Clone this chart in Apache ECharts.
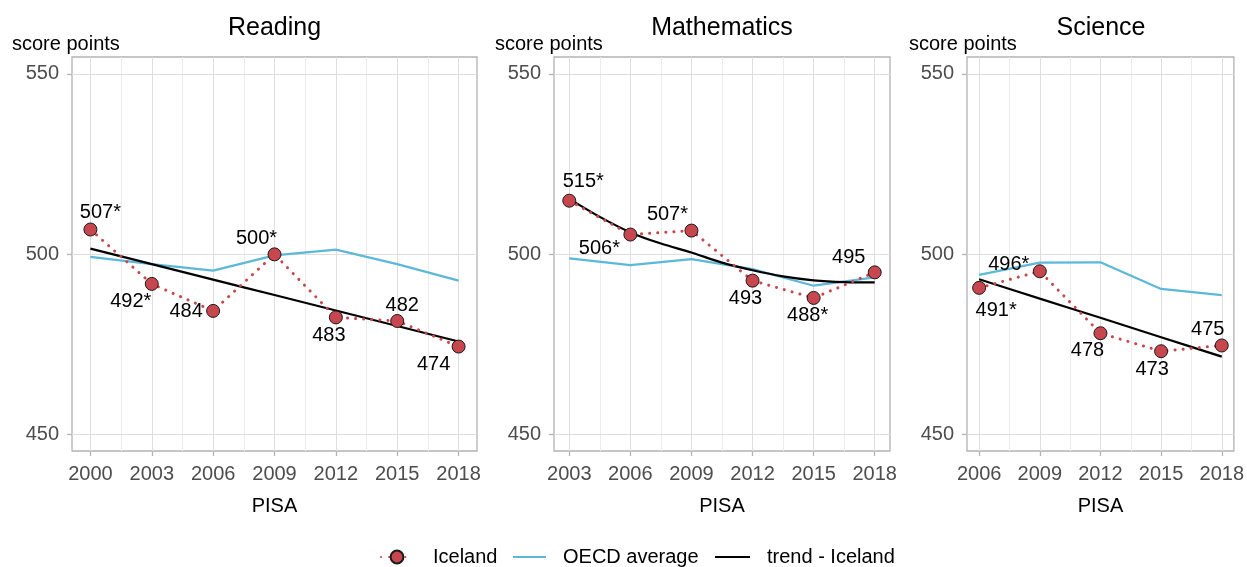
<!DOCTYPE html>
<html>
<head>
	<meta charset="utf-8">
	<title>Iceland PISA trends</title>
	<script src="https://cdn.jsdelivr.net/npm/echarts@6/dist/echarts.min.js"></script>
	<style>
		html, body {
			margin: 0;
			padding: 0;
			background: #fff;
		}

		#chart {
			width: 1247px;
			height: 567px;
		}
	</style>
</head>
<body>
	<div id="chart"></div>
	<script>
		// data
		var readingYears = [2000, 2003, 2006, 2009, 2012, 2015, 2018];
		var readingIceland = [506.8, 491.7, 484.2, 499.9, 482.4, 481.4, 474.3];
		var readingLabels = ['507*', '492*', '484', '500*', '483', '482', '474'];
		var readingOecd = [499.2, 497.2, 495.4, 499.6, 501.2, 497.2, 492.6];
		var readingTrend = [501.5, 497.2, 492.9, 488.6, 484.3, 480.0, 475.7];

		var mathYears = [2003, 2006, 2009, 2012, 2015, 2018];
		var mathIceland = [514.8, 505.4, 506.5, 492.6, 487.8, 494.9];
		var mathLabels = ['515*', '506*', '507*', '493', '488*', '495'];
		var mathOecd = [498.8, 496.9, 498.6, 495.8, 491.2, 493.5];
		var mathTrendYears = [2003, 2004.5, 2006, 2007.5, 2009, 2010.5, 2012, 2013.5, 2015, 2016.5, 2018];
		var mathTrend = [515.3, 510.3, 506.0, 502.9, 500.4, 497.6, 495.5, 493.8, 492.7, 492.2, 492.1];

		var scienceYears = [2006, 2009, 2012, 2015, 2018];
		var scienceIceland = [490.6, 495.2, 478.0, 473.0, 474.6];
		var scienceLabels = ['491*', '496*', '478', '473', '475'];
		var scienceOecd = [494.2, 497.6, 497.7, 490.3, 488.6];
		var scienceTrend = [493.0, 487.6, 482.3, 476.9, 471.5];

		var yTicks = [450, 500, 550];

		// label placement (pixels from the dot)
		var readingOffsets = [[10, -17], [-21, 18], [-27, 1], [-18, -16], [-7, 18], [5, -16], [-25, 18]];
		var mathOffsets = [[14, -19], [-31, 14], [-24, -16], [-7, 18], [-6, 18], [-26, -15]];
		var scienceOffsets = [[17, 23], [-31, -7], [-13, 17], [-9, 18], [-14, -16]];

		var RED = '#c8474f';
		var BLUE = '#5cb8d8';
		var FONT = '"Liberation Sans", Arial, sans-serif';

		var panels = [
			{title: 'Reading', years: readingYears, iceland: readingIceland, labels: readingLabels, oecd: readingOecd,
				trendYears: readingYears, trend: readingTrend, offsets: readingOffsets,
				left: 72, width: 405, xMin: 1999.1, xMax: 2018.9, yTitleX: 12},
			{title: 'Mathematics', years: mathYears, iceland: mathIceland, labels: mathLabels, oecd: mathOecd,
				trendYears: mathTrendYears, trend: mathTrend, offsets: mathOffsets,
				left: 554, width: 336, xMin: 2002.25, xMax: 2018.75, yTitleX: 495},
			{title: 'Science', years: scienceYears, iceland: scienceIceland, labels: scienceLabels, oecd: scienceOecd,
				trendYears: scienceYears, trend: scienceTrend, offsets: scienceOffsets,
				left: 967, width: 268, xMin: 2005.4, xMax: 2018.6, yTitleX: 909}
		];

		var grids = [], xAxes = [], yAxes = [], series = [], titles = [];

		panels.forEach(function (p, i) {
			grids.push({
				left: p.left, top: 57, width: p.width, height: 394,
				show: true, borderColor: '#b3b3b3', borderWidth: 1.3, backgroundColor: '#fff'
			});
			xAxes.push({
				gridIndex: i, type: 'value', min: p.xMin, max: p.xMax,
				name: 'PISA', nameLocation: 'middle', nameGap: 45,
				nameTextStyle: {fontSize: 20, color: '#000', fontFamily: FONT},
				axisLine: {show: false},
				splitLine: {show: false},
				axisTick: {show: true, customValues: p.years, length: 5, lineStyle: {color: '#b3b3b3', width: 1.3}},
				axisLabel: {customValues: p.years, fontSize: 20, color: '#4d4d4d', margin: 13, fontFamily: FONT,
					formatter: function (v) { return String(v); }}
			});
			yAxes.push({
				gridIndex: i, type: 'value', min: 445.3, max: 554.7,
				axisLine: {show: false},
				splitLine: {show: false},
				axisTick: {show: true, customValues: yTicks, length: 5, lineStyle: {color: '#b3b3b3', width: 1.3}},
				axisLabel: {customValues: yTicks, fontSize: 20, color: '#4d4d4d', margin: 13, fontFamily: FONT}
			});

			// panel grid lines (major at survey years, minor half way)
			var lines = [];
			p.years.forEach(function (y, k) {
				if (k > 0) {
					lines.push({xAxis: (y + p.years[k - 1]) / 2, lineStyle: {color: '#ececec', width: 1, type: 'solid'}});
				}
				lines.push({xAxis: y, lineStyle: {color: '#dedede', width: 1, type: 'solid'}});
			});
			yTicks.forEach(function (v) {
				lines.push({yAxis: v, lineStyle: {color: '#dedede', width: 1, type: 'solid'}});
			});
			series.push({
				type: 'line', xAxisIndex: i, yAxisIndex: i, z: 0, silent: true,
				data: [[p.years[0], 500]], symbol: 'none', lineStyle: {width: 0},
				markLine: {silent: true, z: 1, symbol: ['none', 'none'], label: {show: false}, animation: false, data: lines}
			});

			series.push({
				name: 'OECD average', type: 'line', xAxisIndex: i, yAxisIndex: i, z: 2,
				data: p.years.map(function (y, k) { return [y, p.oecd[k]]; }),
				symbol: 'none', lineStyle: {color: BLUE, width: 2.2}, itemStyle: {color: BLUE},
				emphasis: {disabled: true}
			});
			series.push({
				name: 'trend - Iceland', type: 'line', xAxisIndex: i, yAxisIndex: i, z: 3,
				data: p.trendYears.map(function (y, k) { return [y, p.trend[k]]; }),
				symbol: 'none', smooth: 0.3, lineStyle: {color: '#000', width: 2.2}, itemStyle: {color: '#000'},
				emphasis: {disabled: true}
			});
			series.push({
				name: 'Iceland', type: 'line', xAxisIndex: i, yAxisIndex: i, z: 4,
				data: p.years.map(function (y, k) {
					return {value: [y, p.iceland[k]], label: {offset: p.offsets[k]}};
				}),
				symbol: 'circle', symbolSize: 13, showSymbol: true,
				lineStyle: {color: RED, width: 3, type: [0.1, 8], cap: 'round'},
				itemStyle: {color: RED, borderColor: '#1a1a1a', borderWidth: 1},
				label: {
					show: true, position: 'inside', fontSize: 20, color: '#000', fontFamily: FONT,
					formatter: function (params) { return p.labels[params.dataIndex]; }
				},
				emphasis: {disabled: true}
			});

			titles.push({
				text: p.title, left: p.left + p.width / 2, top: 16, textAlign: 'center', padding: 0,
				textStyle: {fontSize: 25, fontWeight: 'normal', color: '#000', fontFamily: FONT}
			});
			titles.push({
				text: 'score points', left: p.yTitleX, top: 34, padding: 0,
				textStyle: {fontSize: 20, fontWeight: 'normal', color: '#000', fontFamily: FONT}
			});
		});

		var legendText = {fontSize: 20, color: '#000', fontFamily: FONT, padding: [0, 0, 0, 12]};

		var chart = echarts.init(document.getElementById('chart'), null, {renderer: 'canvas'});
		chart.setOption({
			animation: false,
			textStyle: {fontFamily: FONT},
			title: titles,
			grid: grids,
			xAxis: xAxes,
			yAxis: yAxes,
			legend: [
				{data: ['Iceland'], left: 380, top: 547, padding: 0, itemWidth: 32, itemHeight: 16,
					textStyle: {fontSize: 20, color: '#000', fontFamily: FONT, padding: [0, 0, 0, 15]}},
				{data: [{name: 'OECD average', icon: 'rect'}], left: 513, top: 547, padding: 0,
					itemWidth: 33, itemHeight: 2.2, textStyle: legendText},
				{data: [{name: 'trend - Iceland', icon: 'rect'}], left: 715, top: 547, padding: 0,
					itemWidth: 35, itemHeight: 2.2, textStyle: legendText}
			],
			series: series
		});
	</script>
</body>
</html>
